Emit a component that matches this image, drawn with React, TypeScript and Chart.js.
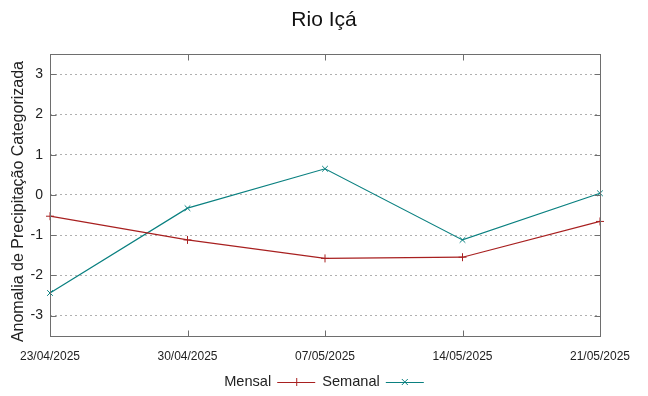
import React, { useEffect, useRef } from "react";
import { Chart, registerables } from "chart.js";

Chart.register(...registerables);

const title = "Rio Içá";
const yAxisTitle = "Anomalia de Precipitação Categorizada   ";
const dates = ["23/04/2025", "30/04/2025", "07/05/2025", "14/05/2025", "21/05/2025"];
const mensal = [-0.53, -1.12, -1.58, -1.55, -0.66];
const semanal = [-2.44, -0.33, 0.65, -1.12, 0.04];
const yTicks = [-3, -2, -1, 0, 1, 2, 3];
const seriesNames = ["Mensal", "Semanal"];
const seriesColors = ["#a82020", "#0a8080"];
const seriesMarkers = ["cross", "crossRot"];

const FONT = "'Liberation Sans', Arial, sans-serif";

const framePlugin = {
  id: "frameAndLegend",
  afterDraw(chart: any) {
    const { ctx, chartArea } = chart;
    const { left, right, top, bottom } = chartArea;
    ctx.save();
    ctx.strokeStyle = "#6e6e6e";
    ctx.lineWidth = 1;
    const L = Math.round(left) + 0.5;
    const R = Math.round(right) + 0.5;
    const T = Math.round(top) + 0.5;
    const B = Math.round(bottom) + 0.5;
    ctx.strokeRect(L, T, R - L, B - T);
    const xs = chart.scales.x;
    const ys = chart.scales.y;
    ctx.beginPath();
    for (let i = 0; i < dates.length; i++) {
      const px = Math.round(xs.getPixelForValue(i)) + 0.5;
      ctx.moveTo(px, T);
      ctx.lineTo(px, T + 6);
      ctx.moveTo(px, B);
      ctx.lineTo(px, B - 6);
    }
    for (const v of yTicks) {
      const py = Math.round(ys.getPixelForValue(v)) + 0.5;
      ctx.moveTo(L, py);
      ctx.lineTo(L + 6, py);
      ctx.moveTo(R, py);
      ctx.lineTo(R - 6, py);
    }
    ctx.stroke();

    // legend: text then sample line with marker
    ctx.font = `14.6px ${FONT}`;
    ctx.textBaseline = "middle";
    ctx.textAlign = "left";
    const ly = 382;
    const lineLen = 38;
    const gap = 6;
    const between = 7;
    const widths = seriesNames.map((n) => ctx.measureText(n).width);
    const total = widths.reduce((a, w) => a + w + gap + lineLen, 0) + between * (seriesNames.length - 1);
    let x = chart.width / 2 - total / 2;
    seriesNames.forEach((name, i) => {
      ctx.fillStyle = "#222";
      ctx.fillText(name, x, ly);
      x += widths[i] + gap;
      ctx.strokeStyle = seriesColors[i];
      ctx.lineWidth = 1;
      ctx.beginPath();
      ctx.moveTo(x, ly + 0.5);
      ctx.lineTo(x + lineLen, ly + 0.5);
      ctx.stroke();
      const cx = x + lineLen / 2;
      ctx.beginPath();
      if (seriesMarkers[i] === "cross") {
        ctx.moveTo(cx - 4, ly + 0.5);
        ctx.lineTo(cx + 4, ly + 0.5);
        ctx.moveTo(cx + 0.5, ly - 4);
        ctx.lineTo(cx + 0.5, ly + 4);
      } else {
        ctx.moveTo(cx - 3, ly - 3);
        ctx.lineTo(cx + 3, ly + 3);
        ctx.moveTo(cx - 3, ly + 3);
        ctx.lineTo(cx + 3, ly - 3);
      }
      ctx.stroke();
      x += lineLen + between;
    });
    ctx.restore();
  },
};

export default function App() {
  const ref = useRef<HTMLCanvasElement | null>(null);
  useEffect(() => {
    if (!ref.current) return;
    const chart = new Chart(ref.current, {
      type: "line",
      data: {
        labels: dates,
        datasets: [
          {
            label: seriesNames[0],
            data: mensal,
            borderColor: seriesColors[0],
            backgroundColor: seriesColors[0],
            borderWidth: 1.2,
            pointStyle: "cross",
            pointRadius: 4,
            pointBorderWidth: 1,
            tension: 0,
          },
          {
            label: seriesNames[1],
            data: semanal,
            borderColor: seriesColors[1],
            backgroundColor: seriesColors[1],
            borderWidth: 1.2,
            pointStyle: "crossRot",
            pointRadius: 4,
            pointBorderWidth: 1,
            tension: 0,
          },
        ],
      },
      options: {
        responsive: false,
        animation: false,
        layout: { padding: { top: 0, right: 0, bottom: 18, left: 0 } },
        plugins: {
          legend: { display: false },
          tooltip: { enabled: false },
          title: {
            display: true,
            text: title,
            color: "#111",
            font: { family: FONT, size: 21, weight: "normal" },
            padding: { top: 8, bottom: 21 },
          },
        },
        scales: {
          x: {
            type: "category",
            offset: false,
            grid: { display: false, drawTicks: false },
            border: { display: false },
            ticks: {
              color: "#222",
              font: { family: FONT, size: 12 },
              padding: 14,
              maxRotation: 0,
              autoSkip: false,
            },
          },
          y: {
            min: -3.5,
            max: 3.5,
            afterBuildTicks: (s: any) => {
              s.ticks = yTicks.map((v) => ({ value: v }));
            },
            grid: {
              color: "#b0b0b0",
              drawTicks: false,
              tickLength: 0,
            },
            border: { display: false, dash: [2, 3] },
            ticks: {
              color: "#222",
              font: { family: FONT, size: 14 },
              padding: 7,
            },
            title: {
              display: true,
              text: yAxisTitle,
              color: "#222",
              font: { family: FONT, size: 16 },
              padding: { top: 9, bottom: 0 },
            },
            afterFit: (s: any) => {
              s.width = 50;
            },
          },
          yRight: {
            position: "right",
            min: -3.5,
            max: 3.5,
            grid: { display: false, drawTicks: false },
            border: { display: false },
            ticks: { display: false },
            afterFit: (s: any) => {
              s.width = 48;
            },
          },
        },
      },
      plugins: [framePlugin],
    });
    return () => chart.destroy();
  }, []);
  return (
    <div style={{ position: "fixed", left: 0, top: 0, width: 648, height: 396, background: "#fff" }}>
      <canvas ref={ref} width={648} height={396} />
    </div>
  );
}
